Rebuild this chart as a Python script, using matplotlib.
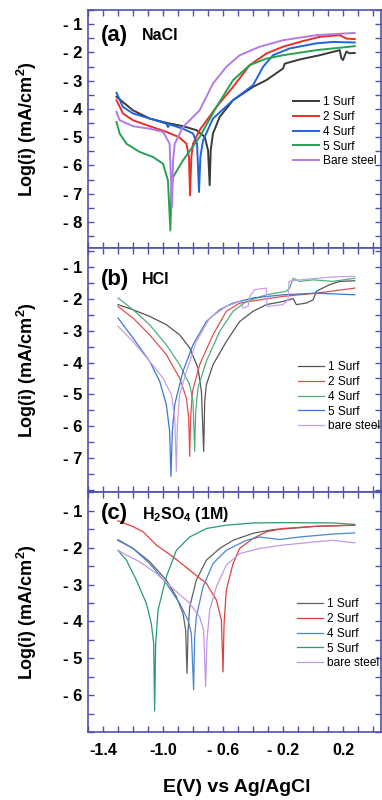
import matplotlib
matplotlib.use("Agg")
import matplotlib.pyplot as plt
from matplotlib.ticker import MultipleLocator, FuncFormatter, FixedLocator, FixedFormatter

plt.rcParams['font.family'] = ['Liberation Sans', 'DejaVu Sans']
plt.rcParams['mathtext.fontset'] = 'custom'
plt.rcParams['mathtext.rm'] = 'Liberation Sans:bold'
plt.rcParams['mathtext.bf'] = 'Liberation Sans:bold'
plt.rcParams['mathtext.default'] = 'bf'

labels_ab = ["1 Surf", "2 Surf", "4 Surf", "5 Surf", "Bare steel"]
labels_bc = ["1 Surf", "2 Surf", "4 Surf", "5 Surf", "bare steel"]
xtick_vals = [-1.4, -1.0, -0.6, -0.2, 0.2]
xtick_labels = ["-1.4", "-1.0", "- 0.6", "- 0.2", "0.2"]

# ---- (a) NaCl ----
a1_E = [-1.31, -1.20, -1.089, -0.978, -0.867, -0.778, -0.722, -0.70, -0.689, -0.682, -0.667, -0.622, -0.533, -0.40, -0.311, -0.20, -0.189, -0.089, 0.044, 0.178, 0.189, 0.20, 0.222, 0.244, 0.278]
a1_I = [-3.57, -4.05, -4.34, -4.49, -4.61, -4.75, -4.99, -5.46, -6.70, -5.46, -4.87, -4.28, -3.69, -3.22, -2.98, -2.57, -2.40, -2.25, -2.10, -1.92, -2.21, -2.27, -1.97, -2.03, -2.02]
a2_E = [-1.31, -1.267, -1.20, -1.089, -0.978, -0.889, -0.844, -0.827, -0.820, -0.811, -0.80, -0.756, -0.644, -0.533, -0.422, -0.311, -0.20, -0.089, 0.044, 0.178, 0.222, 0.278]
a2_I = [-3.69, -4.16, -4.40, -4.61, -4.81, -5.01, -5.23, -5.70, -7.06, -5.70, -5.23, -4.75, -3.93, -3.22, -2.45, -2.04, -1.80, -1.63, -1.45, -1.39, -1.51, -1.53]
a4_E = [-1.31, -1.267, -1.20, -1.089, -0.978, -0.967, -0.956, -0.867, -0.80, -0.773, -0.760, -0.751, -0.733, -0.667, -0.533, -0.40, -0.333, -0.267, -0.156, 0.022, 0.133, 0.278]
a4_I = [-3.43, -3.93, -4.16, -4.34, -4.52, -4.64, -4.55, -4.70, -4.87, -5.23, -6.94, -5.70, -5.11, -4.34, -3.69, -3.16, -2.51, -2.10, -1.86, -1.68, -1.63, -1.65]
a5_E = [-1.31, -1.289, -1.244, -1.156, -1.067, -1.00, -0.967, -0.951, -0.944, -0.933, -0.867, -0.756, -0.644, -0.533, -0.422, -0.311, -0.20, 0.022, 0.278]
a5_I = [-4.46, -4.87, -5.23, -5.52, -5.70, -5.94, -6.53, -8.30, -6.88, -6.41, -5.82, -4.99, -3.93, -2.98, -2.45, -2.22, -2.10, -1.92, -1.78]
ab_E = [-1.31, -1.289, -1.20, -1.089, -1.00, -0.956, -0.940, -0.933, -0.922, -0.867, -0.756, -0.667, -0.578, -0.489, -0.356, -0.20, 0.022, 0.278]
ab_I = [-4.10, -4.40, -4.61, -4.70, -4.81, -5.23, -7.47, -5.82, -5.23, -4.64, -4.05, -3.10, -2.51, -2.10, -1.80, -1.57, -1.39, -1.31]

# ---- (b) HCl ----
b1_E = [-1.30, -1.20, -1.089, -0.978, -0.889, -0.822, -0.767, -0.744, -0.729, -0.722, -0.711, -0.667, -0.578, -0.489, -0.40, -0.311, -0.20, -0.133, -0.111, -0.044, 0.0, 0.022, 0.111, 0.178, 0.278]
b1_I = [-2.18, -2.34, -2.55, -2.81, -3.13, -3.54, -4.17, -4.91, -6.79, -5.22, -4.70, -4.07, -3.34, -2.71, -2.39, -2.18, -2.08, -1.99, -2.18, -2.13, -2.03, -1.76, -1.55, -1.45, -1.43]
b2_E = [-1.30, -1.20, -1.089, -0.978, -0.889, -0.844, -0.829, -0.822, -0.816, -0.804, -0.756, -0.667, -0.578, -0.489, -0.356, -0.20, 0.022, 0.278]
b2_I = [-2.24, -2.60, -3.13, -3.75, -4.49, -5.12, -5.74, -6.95, -5.74, -4.91, -4.07, -3.13, -2.39, -2.13, -2.03, -1.92, -1.82, -1.66]
b4_E = [-1.30, -1.20, -1.089, -0.978, -0.889, -0.822, -0.80, -0.789, -0.782, -0.767, -0.711, -0.622, -0.533, -0.444, -0.311, -0.178, -0.156, -0.133, -0.089, 0.0, 0.133, 0.278]
b4_I = [-1.97, -2.34, -2.81, -3.44, -4.07, -4.70, -5.22, -6.79, -5.53, -4.80, -3.96, -3.02, -2.39, -2.08, -1.87, -1.76, -1.66, -1.35, -1.45, -1.40, -1.45, -1.35]
b5_E = [-1.30, -1.20, -1.089, -1.022, -0.978, -0.956, -0.947, -0.938, -0.922, -0.867, -0.80, -0.711, -0.622, -0.533, -0.40, -0.20, 0.022, 0.278]
b5_I = [-2.60, -3.23, -3.96, -4.59, -5.32, -6.16, -7.58, -6.16, -5.32, -4.28, -3.44, -2.71, -2.34, -2.13, -1.97, -1.87, -1.82, -1.87]
bb_E = [-1.30, -1.20, -1.089, -1.00, -0.944, -0.922, -0.911, -0.904, -0.889, -0.844, -0.778, -0.689, -0.578, -0.489, -0.467, -0.433, -0.422, -0.389, -0.311, -0.307, -0.20, -0.167, -0.16, -0.089, 0.133, 0.278]
bb_I = [-2.86, -3.34, -3.96, -4.49, -5.01, -5.74, -7.42, -5.95, -5.01, -4.28, -3.34, -2.60, -2.24, -2.08, -2.29, -2.24, -1.92, -1.71, -1.66, -2.24, -2.18, -2.03, -1.45, -1.40, -1.31, -1.29]

# ---- (c) H2SO4 ----
c1_E = [-1.30, -1.20, -1.089, -0.978, -0.911, -0.867, -0.849, -0.840, -0.833, -0.822, -0.778, -0.711, -0.622, -0.533, -0.40, -0.267, -0.156, 0.022, 0.278]
c1_I = [-1.80, -2.02, -2.38, -2.88, -3.33, -3.78, -4.24, -5.41, -4.24, -3.60, -2.88, -2.34, -2.02, -1.80, -1.61, -1.51, -1.48, -1.42, -1.39]
c2_E = [-1.30, -1.20, -1.133, -1.044, -0.933, -0.822, -0.711, -0.644, -0.611, -0.60, -0.593, -0.578, -0.533, -0.489, -0.40, -0.311, -0.20, 0.022, 0.278]
c2_I = [-1.27, -1.43, -1.57, -1.93, -2.25, -2.61, -2.97, -3.42, -3.97, -5.37, -4.06, -3.15, -2.43, -2.02, -1.75, -1.57, -1.48, -1.42, -1.39]
c4_E = [-1.30, -1.20, -1.089, -0.978, -0.889, -0.833, -0.811, -0.796, -0.789, -0.778, -0.733, -0.667, -0.578, -0.444, -0.356, -0.222, -0.089, 0.133, 0.278]
c4_I = [-1.78, -2.02, -2.43, -2.97, -3.51, -3.97, -4.33, -5.86, -4.42, -3.88, -3.06, -2.43, -2.07, -1.80, -1.71, -1.78, -1.71, -1.63, -1.60]
c5_E = [-1.30, -1.244, -1.178, -1.111, -1.078, -1.062, -1.056, -1.049, -1.033, -0.978, -0.911, -0.822, -0.711, -0.578, -0.40, -0.20, 0.133, 0.278]
c5_I = [-2.07, -2.34, -2.88, -3.51, -4.06, -4.60, -6.43, -4.60, -3.69, -2.79, -2.07, -1.71, -1.48, -1.39, -1.33, -1.32, -1.33, -1.37]
cb_E = [-1.30, -1.244, -1.156, -1.044, -0.933, -0.822, -0.756, -0.729, -0.716, -0.707, -0.689, -0.644, -0.578, -0.489, -0.356, -0.20, 0.022, 0.133, 0.278]
cb_I = [-2.07, -2.20, -2.38, -2.70, -3.11, -3.51, -3.88, -4.24, -5.77, -4.51, -3.69, -3.06, -2.47, -2.16, -2.02, -1.93, -1.84, -1.80, -1.87]

colors_a = ["#3a3a3a", "#e8302a", "#1e64dc", "#27a050", "#b57ae6"]
colors_b = ["#555555", "#e05050", "#4cb07a", "#3a78d0", "#c8a0e8"]
colors_c = ["#606060", "#e04040", "#4a86d0", "#2a9a6a", "#c09ae0"]
spine_col = "#5050b0"

W, H = 382, 800
fig = plt.figure(figsize=(W / 100, H / 100), dpi=100)

panels = [
    dict(rect=(88, 10, 381, 248), ylim=(-8.92, -0.5), yt=list(range(-8, 0)),
         curves=[(a1_E, a1_I), (a2_E, a2_I), (a4_E, a4_I), (a5_E, a5_I), (ab_E, ab_I)],
         colors=colors_a, labels=labels_ab, lw=1.4, tag="(a)", name="NaCl", tagy=35,
         leg=(293, 96)),
    dict(rect=(88, 248, 381, 492), ylim=(-8.07, -0.4), yt=list(range(-7, 0)),
         curves=[(b1_E, b1_I), (b2_E, b2_I), (b4_E, b4_I), (b5_E, b5_I), (bb_E, bb_I)],
         colors=colors_b, labels=labels_bc, lw=0.9, tag="(b)", name="HCl", tagy=279,
         leg=(298, 361)),
    dict(rect=(88, 492, 381, 732), ylim=(-7.0, -0.49), yt=list(range(-6, 0)),
         curves=[(c1_E, c1_I), (c2_E, c2_I), (c4_E, c4_I), (c5_E, c5_I), (cb_E, cb_I)],
         colors=colors_c, labels=labels_bc, lw=0.9, tag="(c)", name="H$_2$SO$_4$ (1M)", tagy=513,
         leg=(297, 598)),
]

for i, p in enumerate(panels):
    x0, y0, x1, y1 = p["rect"]
    ax = fig.add_axes([x0 / W, 1 - y1 / H, (x1 - x0) / W, (y1 - y0) / H])
    for (E, I), c, lab in zip(p["curves"], p["colors"], p["labels"]):
        ax.plot(E, I, color=c, lw=p["lw"], label=lab)
    ax.set_xlim(-1.5, 0.453)
    ax.set_ylim(*p["ylim"])
    ax.xaxis.set_major_locator(FixedLocator(xtick_vals))
    ax.xaxis.set_minor_locator(MultipleLocator(0.1))
    ax.yaxis.set_major_locator(FixedLocator(p["yt"]))
    ax.yaxis.set_minor_locator(MultipleLocator(0.5))
    ax.yaxis.set_major_formatter(FuncFormatter(lambda v, pos: f"- {abs(int(round(v)))}"))
    if i == 2:
        ax.xaxis.set_major_formatter(FixedFormatter(xtick_labels))
    else:
        ax.set_xticklabels([])
    ax.tick_params(which="both", direction="in", top=True, right=True, length=4,
                   width=1.0, color=spine_col)
    ax.tick_params(axis="y", labelsize=12, pad=4)
    ax.tick_params(axis="x", labelsize=11.5, pad=8)
    for lbl in ax.get_yticklabels() + ax.get_xticklabels():
        lbl.set_fontweight("bold")
    for s in ax.spines.values():
        s.set_color(spine_col)
        s.set_linewidth(1.2)
    fig.text(101 / W, 1 - p["tagy"] / H, p["tag"], fontsize=16, fontweight="bold",
             va="center", ha="left")
    fig.text(142 / W, 1 - (p["tagy"] + 1) / H, p["name"], fontsize=11.5, fontweight="bold",
             va="center", ha="left")
    lx, ly = p["leg"]
    ax.legend(loc="upper left", bbox_to_anchor=(lx / W, 1 - ly / H),
              bbox_transform=fig.transFigure, frameon=False, fontsize=8.6,
              handlelength=2.2, handletextpad=0.3, labelspacing=0.24,
              borderpad=0, borderaxespad=0)
    fig.text(27 / W, 1 - ((y0 + y1) / 2) / H, "Log(i) (mA/cm$^2$)", rotation=90,
             fontsize=13, fontweight="bold", va="center", ha="center")

fig.text(237 / W, 1 - 788 / H, "E(V) vs Ag/AgCl", fontsize=14, fontweight="bold",
         ha="center", va="center")

fig.savefig("out.png", dpi=100)
